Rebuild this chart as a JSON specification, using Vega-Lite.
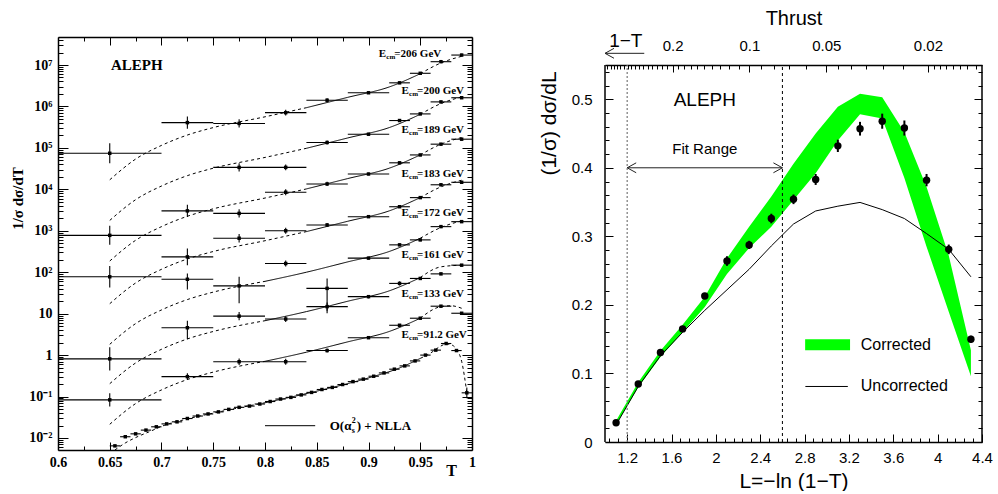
{
"$schema":"https://vega.github.io/schema/vega-lite/v6.json",
"background":"white",
"padding":{"left":10,"top":8,"right":0,"bottom":0},
"spacing":62,
"config":{"view":{"stroke":null},"axis":{"grid":false,"tickColor":"black","domainColor":"black","labelColor":"black","titleColor":"black","tickWidth":1,"domainWidth":1.5}},
"datasets":{
"lp":[
{"s":"206","T":0.65,"a":0.6,"b":0.7,"v":74130,"lo":42660,"hi":128800},
{"s":"206","T":0.725,"a":0.7,"b":0.75,"v":407400,"lo":288400,"hi":575400},
{"s":"206","T":0.775,"a":0.75,"b":0.8,"v":389000,"lo":309000,"hi":489800},
{"s":"206","T":0.82,"a":0.8,"b":0.84,"v":707900,"lo":602600,"hi":831800},
{"s":"206","T":0.86,"a":0.84,"b":0.88,"v":1413000,"lo":1259000,"hi":1585000},
{"s":"206","T":0.9,"a":0.88,"b":0.92,"v":2138000,"lo":1995000,"hi":2291000},
{"s":"206","T":0.93,"a":0.92,"b":0.94,"v":3715000,"lo":3467000,"hi":3981000},
{"s":"206","T":0.95,"a":0.94,"b":0.96,"v":6310000,"lo":5888000,"hi":6761000},
{"s":"206","T":0.97,"a":0.96,"b":0.98,"v":12020000,"lo":11220000,"hi":12880000},
{"s":"206","T":0.99,"a":0.98,"b":1.0,"v":17380000,"lo":16220000,"hi":18620000},
{"s":"200","T":0.775,"a":0.75,"b":0.8,"v":33880,"lo":26920,"hi":42660},
{"s":"200","T":0.82,"a":0.8,"b":0.84,"v":33880,"lo":28840,"hi":39810},
{"s":"200","T":0.86,"a":0.84,"b":0.88,"v":134900,"lo":120200,"hi":151400},
{"s":"200","T":0.9,"a":0.88,"b":0.92,"v":213800,"lo":199500,"hi":229100},
{"s":"200","T":0.93,"a":0.92,"b":0.94,"v":457100,"lo":426600,"hi":489800},
{"s":"200","T":0.95,"a":0.94,"b":0.96,"v":660700,"lo":616600,"hi":707900},
{"s":"200","T":0.97,"a":0.96,"b":0.98,"v":1288000,"lo":1202000,"hi":1380000},
{"s":"200","T":0.99,"a":0.98,"b":1.0,"v":1622000,"lo":1514000,"hi":1738000},
{"s":"189","T":0.65,"a":0.6,"b":0.7,"v":776.2,"lo":457.1,"hi":1318},
{"s":"189","T":0.725,"a":0.7,"b":0.75,"v":3020,"lo":2138,"hi":4266},
{"s":"189","T":0.775,"a":0.75,"b":0.8,"v":2630,"lo":2089,"hi":3311},
{"s":"189","T":0.82,"a":0.8,"b":0.84,"v":8511,"lo":7244,"hi":10000},
{"s":"189","T":0.86,"a":0.84,"b":0.88,"v":13490,"lo":12020,"hi":15140},
{"s":"189","T":0.9,"a":0.88,"b":0.92,"v":23440,"lo":21880,"hi":25120},
{"s":"189","T":0.93,"a":0.92,"b":0.94,"v":43650,"lo":40740,"hi":46770},
{"s":"189","T":0.95,"a":0.94,"b":0.96,"v":67610,"lo":63100,"hi":72440},
{"s":"189","T":0.97,"a":0.96,"b":0.98,"v":123000,"lo":114800,"hi":131800},
{"s":"189","T":0.99,"a":0.98,"b":1.0,"v":162200,"lo":151400,"hi":173800},
{"s":"183","T":0.65,"a":0.6,"b":0.7,"v":77.62,"lo":42.66,"hi":141.3},
{"s":"183","T":0.725,"a":0.7,"b":0.75,"v":234.4,"lo":147.9,"hi":371.5},
{"s":"183","T":0.775,"a":0.75,"b":0.8,"v":660.7,"lo":524.8,"hi":831.8},
{"s":"183","T":0.82,"a":0.8,"b":0.84,"v":1000,"lo":851.1,"hi":1175},
{"s":"183","T":0.86,"a":0.84,"b":0.88,"v":1380,"lo":1230,"hi":1549},
{"s":"183","T":0.9,"a":0.88,"b":0.92,"v":2188,"lo":2042,"hi":2344},
{"s":"183","T":0.93,"a":0.92,"b":0.94,"v":3802,"lo":3548,"hi":4074},
{"s":"183","T":0.95,"a":0.94,"b":0.96,"v":6310,"lo":5888,"hi":6761},
{"s":"183","T":0.97,"a":0.96,"b":0.98,"v":12880,"lo":12020,"hi":13800},
{"s":"183","T":0.99,"a":0.98,"b":1.0,"v":14790,"lo":13800,"hi":15850},
{"s":"172","T":0.725,"a":0.7,"b":0.75,"v":67.61,"lo":38.02,"hi":93.33},
{"s":"172","T":0.775,"a":0.75,"b":0.8,"v":46.77,"lo":17.78,"hi":77.62},
{"s":"172","T":0.82,"a":0.8,"b":0.84,"v":162.2,"lo":138.0,"hi":190.5},
{"s":"172","T":0.86,"a":0.84,"b":0.88,"v":40.74,"lo":10.23,"hi":70.79},
{"s":"172","T":0.9,"a":0.88,"b":0.92,"v":218.8,"lo":204.2,"hi":234.4},
{"s":"172","T":0.93,"a":0.92,"b":0.94,"v":457.1,"lo":426.6,"hi":489.8},
{"s":"172","T":0.95,"a":0.94,"b":0.96,"v":602.6,"lo":562.3,"hi":645.7},
{"s":"172","T":0.97,"a":0.96,"b":0.98,"v":1259,"lo":1175,"hi":1349},
{"s":"172","T":0.99,"a":0.98,"b":1.0,"v":1660,"lo":1549,"hi":1778},
{"s":"161","T":0.65,"a":0.6,"b":0.7,"v":0.8128,"lo":0.4266,"hi":1.549},
{"s":"161","T":0.725,"a":0.7,"b":0.75,"v":4.571,"lo":2.399,"hi":6.761},
{"s":"161","T":0.775,"a":0.75,"b":0.8,"v":8.71,"lo":6.918,"hi":10.96},
{"s":"161","T":0.82,"a":0.8,"b":0.84,"v":7.413,"lo":6.31,"hi":8.71},
{"s":"161","T":0.86,"a":0.84,"b":0.88,"v":14.79,"lo":11.75,"hi":18.62},
{"s":"161","T":0.9,"a":0.88,"b":0.92,"v":25.7,"lo":23.44,"hi":28.18},
{"s":"161","T":0.93,"a":0.92,"b":0.94,"v":53.7,"lo":47.86,"hi":60.26},
{"s":"161","T":0.95,"a":0.94,"b":0.96,"v":70.79,"lo":66.07,"hi":75.86},
{"s":"161","T":0.97,"a":0.96,"b":0.98,"v":91.2,"lo":85.11,"hi":97.72},
{"s":"161","T":0.99,"a":0.98,"b":1.0,"v":147.9,"lo":138.0,"hi":158.5},
{"s":"133","T":0.65,"a":0.6,"b":0.7,"v":0.08318,"lo":0.05754,"hi":0.1202},
{"s":"133","T":0.725,"a":0.7,"b":0.75,"v":0.302,"lo":0.2512,"hi":0.3631},
{"s":"133","T":0.775,"a":0.75,"b":0.8,"v":0.6918,"lo":0.5754,"hi":0.8318},
{"s":"133","T":0.82,"a":0.8,"b":0.84,"v":0.6918,"lo":0.5888,"hi":0.8128},
{"s":"133","T":0.86,"a":0.84,"b":0.88,"v":1.288,"lo":1.148,"hi":1.445},
{"s":"133","T":0.9,"a":0.88,"b":0.92,"v":2.63,"lo":2.455,"hi":2.818},
{"s":"133","T":0.93,"a":0.92,"b":0.94,"v":5.248,"lo":4.898,"hi":5.623},
{"s":"133","T":0.95,"a":0.94,"b":0.96,"v":7.762,"lo":7.244,"hi":8.318},
{"s":"133","T":0.97,"a":0.96,"b":0.98,"v":15.14,"lo":14.13,"hi":16.22},
{"s":"133","T":0.99,"a":0.98,"b":1.0,"v":10.23,"lo":9.55,"hi":10.96},
{"s":"91.2","T":0.655,"a":0.65,"b":0.66,"v":0.006457},
{"s":"91.2","T":0.665,"a":0.66,"b":0.67,"v":0.01072},
{"s":"91.2","T":0.675,"a":0.67,"b":0.68,"v":0.01259},
{"s":"91.2","T":0.685,"a":0.68,"b":0.69,"v":0.01549},
{"s":"91.2","T":0.695,"a":0.69,"b":0.7,"v":0.01862},
{"s":"91.2","T":0.705,"a":0.7,"b":0.71,"v":0.02188},
{"s":"91.2","T":0.715,"a":0.71,"b":0.72,"v":0.02455},
{"s":"91.2","T":0.725,"a":0.72,"b":0.73,"v":0.02951},
{"s":"91.2","T":0.735,"a":0.73,"b":0.74,"v":0.03388},
{"s":"91.2","T":0.745,"a":0.74,"b":0.75,"v":0.03802},
{"s":"91.2","T":0.755,"a":0.75,"b":0.76,"v":0.04266},
{"s":"91.2","T":0.765,"a":0.76,"b":0.77,"v":0.04898},
{"s":"91.2","T":0.775,"a":0.77,"b":0.78,"v":0.05495},
{"s":"91.2","T":0.785,"a":0.78,"b":0.79,"v":0.05888},
{"s":"91.2","T":0.795,"a":0.79,"b":0.8,"v":0.06607},
{"s":"91.2","T":0.805,"a":0.8,"b":0.81,"v":0.07586},
{"s":"91.2","T":0.815,"a":0.81,"b":0.82,"v":0.0871},
{"s":"91.2","T":0.825,"a":0.82,"b":0.83,"v":0.0955},
{"s":"91.2","T":0.835,"a":0.83,"b":0.84,"v":0.1096},
{"s":"91.2","T":0.845,"a":0.84,"b":0.85,"v":0.1259},
{"s":"91.2","T":0.855,"a":0.85,"b":0.86,"v":0.1479},
{"s":"91.2","T":0.865,"a":0.86,"b":0.87,"v":0.166},
{"s":"91.2","T":0.875,"a":0.87,"b":0.88,"v":0.195},
{"s":"91.2","T":0.885,"a":0.88,"b":0.89,"v":0.2291},
{"s":"91.2","T":0.895,"a":0.89,"b":0.9,"v":0.263},
{"s":"91.2","T":0.905,"a":0.9,"b":0.91,"v":0.309},
{"s":"91.2","T":0.915,"a":0.91,"b":0.92,"v":0.3715},
{"s":"91.2","T":0.925,"a":0.92,"b":0.93,"v":0.4571},
{"s":"91.2","T":0.935,"a":0.93,"b":0.94,"v":0.5495},
{"s":"91.2","T":0.945,"a":0.94,"b":0.95,"v":0.7244},
{"s":"91.2","T":0.955,"a":0.95,"b":0.96,"v":1.0},
{"s":"91.2","T":0.965,"a":0.96,"b":0.97,"v":1.318},
{"s":"91.2","T":0.975,"a":0.97,"b":0.98,"v":1.905},
{"s":"91.2","T":0.985,"a":0.98,"b":0.99,"v":1.288},
{"s":"91.2","T":0.995,"a":0.99,"b":1.0,"v":0.123,"lo":0.0912,"hi":0.166}
],
"lt":[
{"s":"206","g":"a","T":0.65,"v":16980},{"s":"206","g":"a","T":0.675,"v":53700},{"s":"206","g":"a","T":0.7,"v":114800},{"s":"206","g":"a","T":0.725,"v":204200},{"s":"206","g":"a","T":0.75,"v":309000},{"s":"206","g":"a","T":0.8,"v":562300},{"s":"206","g":"a","T":0.84,"v":933300},
{"s":"206","g":"b","T":0.84,"v":933300},{"s":"206","g":"b","T":0.88,"v":1660000},{"s":"206","g":"b","T":0.92,"v":2951000},{"s":"206","g":"b","T":0.95,"v":6166000},
{"s":"206","g":"c","T":0.95,"v":6166000},{"s":"206","g":"c","T":0.97,"v":11220000},{"s":"206","g":"c","T":0.99,"v":16220000},
{"s":"200","g":"a","T":0.65,"v":1778},{"s":"200","g":"a","T":0.675,"v":5623},{"s":"200","g":"a","T":0.7,"v":12020},{"s":"200","g":"a","T":0.725,"v":21380},{"s":"200","g":"a","T":0.75,"v":32360},{"s":"200","g":"a","T":0.8,"v":58880},{"s":"200","g":"a","T":0.84,"v":97720},
{"s":"200","g":"b","T":0.84,"v":97720},{"s":"200","g":"b","T":0.88,"v":173800},{"s":"200","g":"b","T":0.92,"v":309000},{"s":"200","g":"b","T":0.95,"v":645700},
{"s":"200","g":"c","T":0.95,"v":645700},{"s":"200","g":"c","T":0.97,"v":1175000},{"s":"200","g":"c","T":0.99,"v":1698000},
{"s":"189","g":"a","T":0.65,"v":186.2},{"s":"189","g":"a","T":0.675,"v":588.8},{"s":"189","g":"a","T":0.7,"v":1259},{"s":"189","g":"a","T":0.725,"v":2239},{"s":"189","g":"a","T":0.75,"v":3388},{"s":"189","g":"a","T":0.8,"v":6166},{"s":"189","g":"a","T":0.84,"v":10230},
{"s":"189","g":"b","T":0.84,"v":10230},{"s":"189","g":"b","T":0.88,"v":18200},{"s":"189","g":"b","T":0.92,"v":32360},{"s":"189","g":"b","T":0.95,"v":67610},
{"s":"189","g":"c","T":0.95,"v":67610},{"s":"189","g":"c","T":0.97,"v":123000},{"s":"189","g":"c","T":0.99,"v":177800},
{"s":"183","g":"a","T":0.65,"v":17.38},{"s":"183","g":"a","T":0.675,"v":54.95},{"s":"183","g":"a","T":0.7,"v":117.5},{"s":"183","g":"a","T":0.725,"v":208.9},{"s":"183","g":"a","T":0.75,"v":316.2},{"s":"183","g":"a","T":0.8,"v":575.4},{"s":"183","g":"a","T":0.84,"v":955},
{"s":"183","g":"b","T":0.84,"v":955},{"s":"183","g":"b","T":0.88,"v":1698},{"s":"183","g":"b","T":0.92,"v":3020},{"s":"183","g":"b","T":0.95,"v":6310},
{"s":"183","g":"c","T":0.95,"v":6310},{"s":"183","g":"c","T":0.97,"v":11480},{"s":"183","g":"c","T":0.99,"v":16600},
{"s":"172","g":"a","T":0.65,"v":1.82},{"s":"172","g":"a","T":0.675,"v":5.754},{"s":"172","g":"a","T":0.7,"v":12.3},{"s":"172","g":"a","T":0.725,"v":21.88},{"s":"172","g":"a","T":0.75,"v":33.11},{"s":"172","g":"a","T":0.8,"v":60.26},
{"s":"172","g":"b","T":0.8,"v":60.26},{"s":"172","g":"b","T":0.84,"v":100},{"s":"172","g":"b","T":0.88,"v":177.8},{"s":"172","g":"b","T":0.92,"v":316.2},{"s":"172","g":"b","T":0.95,"v":660.7},
{"s":"172","g":"c","T":0.95,"v":660.7},{"s":"172","g":"c","T":0.97,"v":1202},{"s":"172","g":"c","T":0.99,"v":1738},
{"s":"161","g":"a","T":0.65,"v":0.2042},{"s":"161","g":"a","T":0.675,"v":0.6457},{"s":"161","g":"a","T":0.7,"v":1.38},{"s":"161","g":"a","T":0.725,"v":2.455},{"s":"161","g":"a","T":0.75,"v":3.715},{"s":"161","g":"a","T":0.8,"v":6.761},
{"s":"161","g":"b","T":0.8,"v":6.761},{"s":"161","g":"b","T":0.84,"v":11.22},{"s":"161","g":"b","T":0.88,"v":19.95},{"s":"161","g":"b","T":0.92,"v":35.48},{"s":"161","g":"b","T":0.95,"v":74.13},
{"s":"161","g":"c","T":0.95,"v":74.13},{"s":"161","g":"c","T":0.97,"v":134.9},{"s":"161","g":"c","T":0.99,"v":147.9},
{"s":"133","g":"a","T":0.65,"v":0.02138},{"s":"133","g":"a","T":0.675,"v":0.06761},{"s":"133","g":"a","T":0.7,"v":0.1445},{"s":"133","g":"a","T":0.725,"v":0.257},{"s":"133","g":"a","T":0.75,"v":0.389},{"s":"133","g":"a","T":0.8,"v":0.7079},
{"s":"133","g":"b","T":0.8,"v":0.7079},{"s":"133","g":"b","T":0.84,"v":1.175},{"s":"133","g":"b","T":0.88,"v":2.089},{"s":"133","g":"b","T":0.92,"v":3.715},{"s":"133","g":"b","T":0.95,"v":7.762},
{"s":"133","g":"c","T":0.95,"v":7.762},{"s":"133","g":"c","T":0.97,"v":14.79},{"s":"133","g":"c","T":0.98,"v":15.49},{"s":"133","g":"c","T":0.99,"v":13.49},
{"s":"91.2","g":"a","T":0.655,"v":0.005129},{"s":"91.2","g":"a","T":0.665,"v":0.007586},{"s":"91.2","g":"a","T":0.675,"v":0.01023},{"s":"91.2","g":"a","T":0.69,"v":0.01479},{"s":"91.2","g":"a","T":0.7,"v":0.01905},{"s":"91.2","g":"a","T":0.725,"v":0.02884},{"s":"91.2","g":"a","T":0.75,"v":0.03981},{"s":"91.2","g":"a","T":0.8,"v":0.07079},
{"s":"91.2","g":"b","T":0.8,"v":0.07079},{"s":"91.2","g":"b","T":0.85,"v":0.1349},{"s":"91.2","g":"b","T":0.9,"v":0.2818},{"s":"91.2","g":"b","T":0.93,"v":0.4898},{"s":"91.2","g":"b","T":0.95,"v":0.8318},
{"s":"91.2","g":"c","T":0.95,"v":0.8318},{"s":"91.2","g":"c","T":0.96,"v":1.122},{"s":"91.2","g":"c","T":0.97,"v":1.66},{"s":"91.2","g":"c","T":0.975,"v":1.862},{"s":"91.2","g":"c","T":0.98,"v":1.778},{"s":"91.2","g":"c","T":0.985,"v":1.38},{"s":"91.2","g":"c","T":0.99,"v":0.7079},{"s":"91.2","g":"c","T":0.995,"v":0.1259}
],
"le":[
{"t":"=206 GeV","T":0.91,"v":18400000},
{"t":"=200 GeV","T":0.932,"v":2360000},
{"t":"=189 GeV","T":0.932,"v":270000},
{"t":"=183 GeV","T":0.932,"v":23400},
{"t":"=172 GeV","T":0.932,"v":2680},
{"t":"=161 GeV","T":0.932,"v":260},
{"t":"=133 GeV","T":0.932,"v":29.8},
{"t":"=91.2 GeV","T":0.932,"v":3.05}
],
"lm":[
{"k":"aleph","T":0.6762,"T2":0.6762,"v":10000000,"t":"ALEPH"},
{"k":"leg","T":0.8625,"T2":0.8625,"v":0.0198,"t":"O(α"},
{"k":"line","T":0.8,"T2":0.8485,"v":0.0198,"t":""}
],
"rp":[
{"L":1.1,"v":0.028,"lo":0.026,"hi":0.03},
{"L":1.3,"v":0.0845,"lo":0.0815,"hi":0.0875},
{"L":1.5,"v":0.1305,"lo":0.1275,"hi":0.1335},
{"L":1.7,"v":0.165,"lo":0.162,"hi":0.168},
{"L":1.9,"v":0.213,"lo":0.209,"hi":0.217},
{"L":2.1,"v":0.264,"lo":0.257,"hi":0.271},
{"L":2.3,"v":0.2875,"lo":0.2815,"hi":0.2935},
{"L":2.5,"v":0.326,"lo":0.319,"hi":0.333},
{"L":2.7,"v":0.354,"lo":0.347,"hi":0.361},
{"L":2.9,"v":0.383,"lo":0.375,"hi":0.391},
{"L":3.1,"v":0.432,"lo":0.423,"hi":0.441},
{"L":3.3,"v":0.457,"lo":0.447,"hi":0.467},
{"L":3.5,"v":0.468,"lo":0.457,"hi":0.479},
{"L":3.7,"v":0.458,"lo":0.447,"hi":0.469},
{"L":3.9,"v":0.382,"lo":0.373,"hi":0.391},
{"L":4.1,"v":0.281,"lo":0.274,"hi":0.288},
{"L":4.3,"v":0.15,"lo":0.145,"hi":0.155}
],
"rb":[
{"L":1.1,"lo":0.025,"hi":0.031},
{"L":1.3,"lo":0.08,"hi":0.087},
{"L":1.5,"lo":0.124,"hi":0.133},
{"L":1.7,"lo":0.16,"hi":0.171},
{"L":1.9,"lo":0.197,"hi":0.212},
{"L":2.1,"lo":0.245,"hi":0.268},
{"L":2.3,"lo":0.283,"hi":0.314},
{"L":2.5,"lo":0.314,"hi":0.358},
{"L":2.7,"lo":0.353,"hi":0.406},
{"L":2.9,"lo":0.392,"hi":0.45},
{"L":3.1,"lo":0.44,"hi":0.489},
{"L":3.3,"lo":0.478,"hi":0.508},
{"L":3.5,"lo":0.472,"hi":0.503},
{"L":3.7,"lo":0.385,"hi":0.452},
{"L":3.9,"lo":0.285,"hi":0.372},
{"L":4.1,"lo":0.19,"hi":0.272},
{"L":4.3,"lo":0.096,"hi":0.134}
],
"ru":[
{"L":1.1,"v":0.025},{"L":1.3,"v":0.081},{"L":1.5,"v":0.1257},{"L":1.7,"v":0.16},{"L":1.9,"v":0.192},{"L":2.1,"v":0.222},{"L":2.3,"v":0.252},{"L":2.5,"v":0.286},{"L":2.7,"v":0.318},{"L":2.9,"v":0.337},{"L":3.1,"v":0.344},{"L":3.3,"v":0.3495},{"L":3.5,"v":0.339},{"L":3.7,"v":0.326},{"L":3.9,"v":0.304},{"L":4.1,"v":0.281},{"L":4.3,"v":0.241}
],
"rt":[
{"k":"big","L":1.9,"v":0.4985,"t":"ALEPH"},
{"k":"mid","L":1.9,"v":0.427,"t":"Fit Range"},
{"k":"leg","L":3.306,"v":0.1417,"t":"Corrected"},
{"k":"leg","L":3.306,"v":0.082,"t":"Uncorrected"},
{"k":"top","L":1.188,"v":0.5845,"t":"1−T"}
],
"rf":[{"L":1.0,"v":0,"v2":0.55},{"L":4.4,"v":0,"v2":0.55}],
"rl":[{"k":"fit1","L":1.2,"v":0,"v2":0.55},{"k":"fit2","L":2.6,"v":0,"v2":0.55}],
"ra":[{"k":"fit","L":1.2,"L2":2.6,"v":0.4},{"k":"oneT","L":1.0,"L2":1.354,"v":0.567}],
"rh":[{"dir":"left","L":1.2,"v":0.4},{"dir":"right","L":2.6,"v":0.4},{"dir":"left","L":1.0,"v":0.567}],
"rg":[{"k":"Corrected","L":2.805,"L2":3.21,"v":0.134,"v2":0.15},{"k":"Uncorrected","L":2.807,"L2":3.19,"v":0.081,"v2":0.081}]
},
"hconcat":[
{
"width":414,"height":413,
"resolve":{"axis":{"x":"independent","y":"independent"}},
"layer":[
{"data":{"name":"lt"},"mark":{"type":"line","interpolate":"monotone","strokeWidth":1,"color":"black"},
"encoding":{
"x":{"field":"T","type":"quantitative","scale":{"domain":[0.6,1],"nice":false,"zero":false},
"axis":{"orient":"bottom","values":[0.6,0.65,0.7,0.75,0.8,0.85,0.9,0.95,1],"format":"~g","ticks":false,"domain":true,"labelPadding":5,"labelFont":"Liberation Serif","labelFontWeight":"bold","labelFontSize":14,"labelFlush":false,"labelOverlap":false,"title":"T","titleFont":"Liberation Serif","titleFontWeight":"bold","titleFontSize":16,"titleX":393,"titleY":20,"titleBaseline":"middle","titleAlign":"center"}},
"y":{"field":"v","type":"quantitative","scale":{"type":"log","domain":[0.00513,47400000],"nice":false},
"axis":{"orient":"left","values":[0.01,0.1,1,10,100,1000,10000,100000,1000000,10000000],"labelExpr":"['10⁻²','10⁻¹','1','10','10²','10³','10⁴','10⁵','10⁶','10⁷'][round(log(datum.value)/LN10)+2]","ticks":false,"domain":true,"labelPadding":6,"labelFont":"Liberation Serif","labelFontWeight":"bold","labelFontSize":14,"labelOverlap":false,"title":"1/σ dσ/dT","titleFont":"Liberation Serif","titleFontWeight":"bold","titleFontSize":15,"titleAngle":-90,"titleX":-41,"titleY":161,"titleAlign":"center","titleBaseline":"middle"}},
"detail":{"field":"s","type":"nominal"},
"strokeDash":{"field":"g","type":"nominal","scale":{"domain":["a","b","c"],"range":[[3,3],[1,0],[3,3]]},"legend":null}}},
{"data":{"name":"lp"},"mark":{"type":"rule","strokeWidth":1.1,"color":"black"},
"encoding":{
"x":{"field":"a","type":"quantitative","scale":{"domain":[0.6,1],"nice":false,"zero":false},
"axis":{"orient":"bottom","values":[0.6,0.65,0.7,0.75,0.8,0.85,0.9,0.95,1],"labels":false,"domain":false,"tickSize":-8,"title":null}},
"x2":{"field":"b"},
"y":{"field":"v","type":"quantitative","scale":{"type":"log","domain":[0.00513,47400000],"nice":false},
"axis":{"orient":"left","values":[0.01,0.1,1,10,100,1000,10000,100000,1000000,10000000],"labels":false,"domain":false,"tickSize":-10,"title":null}}}},
{"data":{"name":"lp"},"transform":[{"filter":"isValid(datum.lo)"}],"mark":{"type":"rule","strokeWidth":1.1,"color":"black"},
"encoding":{
"x":{"field":"T","type":"quantitative","scale":{"domain":[0.6,1],"nice":false,"zero":false},
"axis":{"orient":"bottom","values":[0.625,0.675,0.725,0.775,0.825,0.875,0.925,0.975],"labels":false,"domain":false,"tickSize":-4,"title":null}},
"y":{"field":"lo","type":"quantitative","scale":{"type":"log","domain":[0.00513,47400000],"nice":false},
"axis":{"orient":"left","values":[0.006,0.007,0.008,0.009,0.02,0.03,0.04,0.05,0.06,0.07,0.08,0.09,0.2,0.3,0.4,0.5,0.6,0.7,0.8,0.9,2,3,4,5,6,7,8,9,20,30,40,50,60,70,80,90,200,300,400,500,600,700,800,900,2000,3000,4000,5000,6000,7000,8000,9000,20000,30000,40000,50000,60000,70000,80000,90000,200000,300000,400000,500000,600000,700000,800000,900000,2000000,3000000,4000000,5000000,6000000,7000000,8000000,9000000,20000000,30000000,40000000],"labels":false,"domain":false,"tickSize":-5,"title":null}},
"y2":{"field":"hi"}}},
{"data":{"name":"lp"},"mark":{"type":"point","shape":"square","filled":true,"size":12,"color":"black","opacity":1},
"encoding":{
"x":{"field":"T","type":"quantitative","scale":{"domain":[0.6,1],"nice":false,"zero":false},
"axis":{"orient":"top","values":[0.6,0.65,0.7,0.75,0.8,0.85,0.9,0.95,1],"labels":false,"domain":true,"tickSize":-8,"title":null}},
"y":{"field":"v","type":"quantitative","scale":{"type":"log","domain":[0.00513,47400000],"nice":false},
"axis":{"orient":"right","values":[0.01,0.1,1,10,100,1000,10000,100000,1000000,10000000],"labels":false,"domain":true,"tickSize":-10,"title":null}}}},
{"data":{"name":"le"},"mark":{"type":"text","align":"left","baseline":"middle","font":"Liberation Serif","fontWeight":"bold","fontSize":11,"color":"black"},
"encoding":{
"x":{"field":"T","type":"quantitative","scale":{"domain":[0.6,1],"nice":false,"zero":false},
"axis":{"orient":"top","values":[0.625,0.675,0.725,0.775,0.825,0.875,0.925,0.975],"labels":false,"domain":false,"tickSize":-4,"title":null}},
"y":{"field":"v","type":"quantitative","scale":{"type":"log","domain":[0.00513,47400000],"nice":false},
"axis":{"orient":"right","values":[0.006,0.007,0.008,0.009,0.02,0.03,0.04,0.05,0.06,0.07,0.08,0.09,0.2,0.3,0.4,0.5,0.6,0.7,0.8,0.9,2,3,4,5,6,7,8,9,20,30,40,50,60,70,80,90,200,300,400,500,600,700,800,900,2000,3000,4000,5000,6000,7000,8000,9000,20000,30000,40000,50000,60000,70000,80000,90000,200000,300000,400000,500000,600000,700000,800000,900000,2000000,3000000,4000000,5000000,6000000,7000000,8000000,9000000,20000000,30000000,40000000],"labels":false,"domain":false,"tickSize":-5,"title":null}},
"text":{"value":"E"}}},
{"data":{"name":"le"},"mark":{"type":"text","align":"left","baseline":"middle","font":"Liberation Serif","fontWeight":"bold","fontSize":7,"dx":7.5,"dy":3,"color":"black"},
"encoding":{
"x":{"field":"T","type":"quantitative","scale":{"domain":[0.6,1],"nice":false,"zero":false},"axis":null},
"y":{"field":"v","type":"quantitative","scale":{"type":"log","domain":[0.00513,47400000],"nice":false},"axis":null},
"text":{"value":"cm"}}},
{"data":{"name":"le"},"mark":{"type":"text","align":"left","baseline":"middle","font":"Liberation Serif","fontWeight":"bold","fontSize":11,"dx":15.5,"color":"black"},
"encoding":{
"x":{"field":"T","type":"quantitative","scale":{"domain":[0.6,1],"nice":false,"zero":false},"axis":null},
"y":{"field":"v","type":"quantitative","scale":{"type":"log","domain":[0.00513,47400000],"nice":false},"axis":null},
"text":{"field":"t"}}},
{"data":{"name":"lm"},"transform":[{"filter":"datum.k=='aleph'"}],"mark":{"type":"text","align":"center","baseline":"middle","font":"Liberation Serif","fontWeight":"bold","fontSize":15,"color":"black"},
"encoding":{
"x":{"field":"T","type":"quantitative","scale":{"domain":[0.6,1],"nice":false,"zero":false},"axis":null},
"y":{"field":"v","type":"quantitative","scale":{"type":"log","domain":[0.00513,47400000],"nice":false},"axis":null},
"text":{"field":"t"}}},
{"data":{"name":"lm"},"transform":[{"filter":"datum.k=='line'"}],"mark":{"type":"rule","strokeWidth":1,"color":"black"},
"encoding":{
"x":{"field":"T","type":"quantitative","scale":{"domain":[0.6,1],"nice":false,"zero":false},"axis":null},
"x2":{"field":"T2"},
"y":{"field":"v","type":"quantitative","scale":{"type":"log","domain":[0.00513,47400000],"nice":false},"axis":null}}},
{"data":{"name":"lm"},"transform":[{"filter":"datum.k=='leg'"}],"mark":{"type":"text","align":"left","baseline":"middle","font":"Liberation Serif","fontWeight":"bold","fontSize":13,"color":"black"},
"encoding":{
"x":{"field":"T","type":"quantitative","scale":{"domain":[0.6,1],"nice":false,"zero":false},"axis":null},
"y":{"field":"v","type":"quantitative","scale":{"type":"log","domain":[0.00513,47400000],"nice":false},"axis":null},
"text":{"field":"t"}}},
{"data":{"name":"lm"},"transform":[{"filter":"datum.k=='leg'"}],"mark":{"type":"text","align":"left","baseline":"middle","font":"Liberation Serif","fontWeight":"bold","fontSize":8,"dx":22,"dy":-5,"color":"black"},
"encoding":{
"x":{"field":"T","type":"quantitative","scale":{"domain":[0.6,1],"nice":false,"zero":false},"axis":null},
"y":{"field":"v","type":"quantitative","scale":{"type":"log","domain":[0.00513,47400000],"nice":false},"axis":null},
"text":{"value":"2"}}},
{"data":{"name":"lm"},"transform":[{"filter":"datum.k=='leg'"}],"mark":{"type":"text","align":"left","baseline":"middle","font":"Liberation Serif","fontWeight":"bold","fontSize":8,"dx":22,"dy":5,"color":"black"},
"encoding":{
"x":{"field":"T","type":"quantitative","scale":{"domain":[0.6,1],"nice":false,"zero":false},"axis":null},
"y":{"field":"v","type":"quantitative","scale":{"type":"log","domain":[0.00513,47400000],"nice":false},"axis":null},
"text":{"value":"s"}}},
{"data":{"name":"lm"},"transform":[{"filter":"datum.k=='leg'"}],"mark":{"type":"text","align":"left","baseline":"middle","font":"Liberation Serif","fontWeight":"bold","fontSize":13,"dx":27,"color":"black"},
"encoding":{
"x":{"field":"T","type":"quantitative","scale":{"domain":[0.6,1],"nice":false,"zero":false},"axis":null},
"y":{"field":"v","type":"quantitative","scale":{"type":"log","domain":[0.00513,47400000],"nice":false},"axis":null},
"text":{"value":") + NLLA"}}}
]
},
{
"width":377,"height":405,
"resolve":{"axis":{"x":"independent","y":"independent"}},
"layer":[
{"data":{"name":"rb"},"mark":{"type":"area","color":"#00ff00","opacity":1},
"encoding":{
"x":{"field":"L","type":"quantitative","scale":{"domain":[1,4.4],"nice":false,"zero":false},
"axis":{"orient":"bottom","values":[1.2,1.6,2,2.4,2.8,3.2,3.6,4,4.4],"format":"~g","ticks":false,"domain":true,"labelPadding":8,"labelFont":"Liberation Sans","labelFontSize":15,"labelFlush":false,"labelOverlap":false,"title":"L=−ln (1−T)","titleFont":"Liberation Sans","titleFontSize":21,"titleFontWeight":"normal","titlePadding":5}},
"y":{"field":"lo","type":"quantitative","scale":{"domain":[0,0.5908],"nice":false,"zero":false},
"axis":{"orient":"left","values":[0,0.1,0.2,0.3,0.4,0.5],"format":"~g","ticks":false,"domain":false,"labelPadding":13,"labelFont":"Liberation Sans","labelFontSize":15,"labelOverlap":false,"title":"(1/σ) dσ/dL","titleFont":"Liberation Sans","titleFontSize":21,"titleFontWeight":"normal","titleY":86,"titleAlign":"center","titlePadding":12}},
"y2":{"field":"hi"}}},
{"data":{"name":"ru"},"mark":{"type":"line","color":"black","strokeWidth":1},
"encoding":{
"x":{"field":"L","type":"quantitative","scale":{"domain":[1,4.4],"nice":false,"zero":false},
"axis":{"orient":"bottom","values":[1.2,1.6,2,2.4,2.8,3.2,3.6,4,4.4],"labels":false,"domain":false,"tickSize":-8,"title":null}},
"y":{"field":"v","type":"quantitative","scale":{"domain":[0,0.5908],"nice":false,"zero":false},
"axis":{"orient":"left","values":[0,0.1,0.2,0.3,0.4,0.5],"labels":false,"domain":false,"tickSize":-8,"title":null}}}},
{"data":{"name":"rp"},"mark":{"type":"rule","color":"black","strokeWidth":2},
"encoding":{
"x":{"field":"L","type":"quantitative","scale":{"domain":[1,4.4],"nice":false,"zero":false},
"axis":{"orient":"bottom","values":[1.04,1.12,1.28,1.36,1.44,1.52,1.68,1.76,1.84,1.92,2.08,2.16,2.24,2.32,2.48,2.56,2.64,2.72,2.88,2.96,3.04,3.12,3.28,3.36,3.44,3.52,3.68,3.76,3.84,3.92,4.08,4.16,4.24,4.32],"labels":false,"domain":false,"tickSize":-4,"title":null}},
"y":{"field":"lo","type":"quantitative","scale":{"domain":[0,0.5908],"nice":false,"zero":false},
"axis":{"orient":"left","values":[0.02,0.04,0.06,0.08,0.12,0.14,0.16,0.18,0.22,0.24,0.26,0.28,0.32,0.34,0.36,0.38,0.42,0.44,0.46,0.48,0.52,0.54],"labels":false,"domain":false,"tickSize":-4,"title":null}},
"y2":{"field":"hi"}}},
{"data":{"name":"rp"},"mark":{"type":"circle","color":"black","size":55,"opacity":1},
"encoding":{
"x":{"field":"L","type":"quantitative","scale":{"domain":[1,4.4],"nice":false,"zero":false},
"axis":{"orient":"top","offset":-28,"values":[1.6094,2.3026,2.9957,3.912],"labelExpr":"datum.value < 1.7 ? '0.2' : datum.value < 2.5 ? '0.1' : datum.value < 3.5 ? '0.05' : '0.02'","ticks":false,"domain":true,"labelPadding":12,"labelFont":"Liberation Sans","labelFontSize":15,"labelFlush":false,"labelOverlap":false,"title":"Thrust","titleFont":"Liberation Sans","titleFontSize":20,"titleFontWeight":"normal","titlePadding":10}},
"y":{"field":"v","type":"quantitative","scale":{"domain":[0,0.5908],"nice":false,"zero":false},
"axis":{"orient":"right","values":[0,0.1,0.2,0.3,0.4,0.5],"labels":false,"domain":false,"tickSize":-8,"title":null}}}},
{"data":{"name":"ra"},"mark":{"type":"rule","color":"#222","strokeWidth":1},
"encoding":{
"x":{"field":"L","type":"quantitative","scale":{"domain":[1,4.4],"nice":false,"zero":false},
"axis":{"orient":"top","offset":-28,"values":[1.6094,2.3026,2.9957,3.912],"labels":false,"domain":false,"tickSize":-7,"title":null}},
"x2":{"field":"L2"},
"y":{"field":"v","type":"quantitative","scale":{"domain":[0,0.5908],"nice":false,"zero":false},
"axis":{"orient":"right","values":[0.02,0.04,0.06,0.08,0.12,0.14,0.16,0.18,0.22,0.24,0.26,0.28,0.32,0.34,0.36,0.38,0.42,0.44,0.46,0.48,0.52,0.54],"labels":false,"domain":false,"tickSize":-4,"title":null}}}},
{"data":{"name":"rh"},"mark":{"type":"point","filled":false,"size":81,"strokeWidth":1,"color":"#222","opacity":1},
"encoding":{
"x":{"field":"L","type":"quantitative","scale":{"domain":[1,4.4],"nice":false,"zero":false},
"axis":{"orient":"top","offset":-28,"values":[1.0217,1.0498,1.0788,1.1087,1.1394,1.1712,1.204,1.2379,1.273,1.3093,1.3471,1.3863,1.4271,1.4697,1.5141,1.5606,1.6607,1.7148,1.772,1.8326,1.8971,1.9661,2.0402,2.1203,2.2073,2.4079,2.5257,2.6593,2.8134,3.1011,3.2189,3.3524,3.5066,3.6889,3.9633,4.0174,4.0745,4.1352,4.1997,4.2687,4.3428],"labels":false,"domain":false,"tickSize":-4,"title":null}},
"y":{"field":"v","type":"quantitative","scale":{"domain":[0,0.5908],"nice":false,"zero":false},"axis":null},
"shape":{"field":"dir","type":"nominal","scale":{"domain":["left","right"],"range":["M2,-1.1L0,0L2,1.1","M-2,-1.1L0,0L-2,1.1"]},"legend":null}}},
{"data":{"name":"rf"},"mark":{"type":"rule","color":"black","strokeWidth":1.5},
"encoding":{
"x":{"field":"L","type":"quantitative","scale":{"domain":[1,4.4],"nice":false,"zero":false},"axis":null},
"y":{"field":"v","type":"quantitative","scale":{"domain":[0,0.5908],"nice":false,"zero":false},"axis":null},
"y2":{"field":"v2"}}},
{"data":{"name":"rl"},"transform":[{"filter":"datum.k=='fit1'"}],"mark":{"type":"rule","color":"#777","strokeWidth":1.2,"strokeDash":[2,2]},
"encoding":{
"x":{"field":"L","type":"quantitative","scale":{"domain":[1,4.4],"nice":false,"zero":false},"axis":null},
"y":{"field":"v","type":"quantitative","scale":{"domain":[0,0.5908],"nice":false,"zero":false},"axis":null},
"y2":{"field":"v2"}}},
{"data":{"name":"rl"},"transform":[{"filter":"datum.k=='fit2'"}],"mark":{"type":"rule","color":"black","strokeWidth":1,"strokeDash":[3,3]},
"encoding":{
"x":{"field":"L","type":"quantitative","scale":{"domain":[1,4.4],"nice":false,"zero":false},"axis":null},
"y":{"field":"v","type":"quantitative","scale":{"domain":[0,0.5908],"nice":false,"zero":false},"axis":null},
"y2":{"field":"v2"}}},
{"data":{"name":"rg"},"transform":[{"filter":"datum.k=='Corrected'"}],"mark":{"type":"rect","color":"#00ff00"},
"encoding":{
"x":{"field":"L","type":"quantitative","scale":{"domain":[1,4.4],"nice":false,"zero":false},"axis":null},
"x2":{"field":"L2"},
"y":{"field":"v","type":"quantitative","scale":{"domain":[0,0.5908],"nice":false,"zero":false},"axis":null},
"y2":{"field":"v2"}}},
{"data":{"name":"rg"},"transform":[{"filter":"datum.k=='Uncorrected'"}],"mark":{"type":"rule","color":"black","strokeWidth":1},
"encoding":{
"x":{"field":"L","type":"quantitative","scale":{"domain":[1,4.4],"nice":false,"zero":false},"axis":null},
"x2":{"field":"L2"},
"y":{"field":"v","type":"quantitative","scale":{"domain":[0,0.5908],"nice":false,"zero":false},"axis":null}}},
{"data":{"name":"rt"},"transform":[{"filter":"datum.k=='big'"}],"mark":{"type":"text","align":"center","baseline":"middle","font":"Liberation Sans","fontSize":19,"color":"black"},
"encoding":{
"x":{"field":"L","type":"quantitative","scale":{"domain":[1,4.4],"nice":false,"zero":false},"axis":null},
"y":{"field":"v","type":"quantitative","scale":{"domain":[0,0.5908],"nice":false,"zero":false},"axis":null},
"text":{"field":"t"}}},
{"data":{"name":"rt"},"transform":[{"filter":"datum.k=='mid'"}],"mark":{"type":"text","align":"center","baseline":"middle","font":"Liberation Sans","fontSize":15,"color":"black"},
"encoding":{
"x":{"field":"L","type":"quantitative","scale":{"domain":[1,4.4],"nice":false,"zero":false},"axis":null},
"y":{"field":"v","type":"quantitative","scale":{"domain":[0,0.5908],"nice":false,"zero":false},"axis":null},
"text":{"field":"t"}}},
{"data":{"name":"rt"},"transform":[{"filter":"datum.k=='leg'"}],"mark":{"type":"text","align":"left","baseline":"middle","font":"Liberation Sans","fontSize":16,"color":"black"},
"encoding":{
"x":{"field":"L","type":"quantitative","scale":{"domain":[1,4.4],"nice":false,"zero":false},"axis":null},
"y":{"field":"v","type":"quantitative","scale":{"domain":[0,0.5908],"nice":false,"zero":false},"axis":null},
"text":{"field":"t"}}},
{"data":{"name":"rt"},"transform":[{"filter":"datum.k=='top'"}],"mark":{"type":"text","align":"center","baseline":"middle","font":"Liberation Sans","fontSize":19,"color":"black"},
"encoding":{
"x":{"field":"L","type":"quantitative","scale":{"domain":[1,4.4],"nice":false,"zero":false},"axis":null},
"y":{"field":"v","type":"quantitative","scale":{"domain":[0,0.5908],"nice":false,"zero":false},"axis":null},
"text":{"field":"t"}}}
]
}
]
}
